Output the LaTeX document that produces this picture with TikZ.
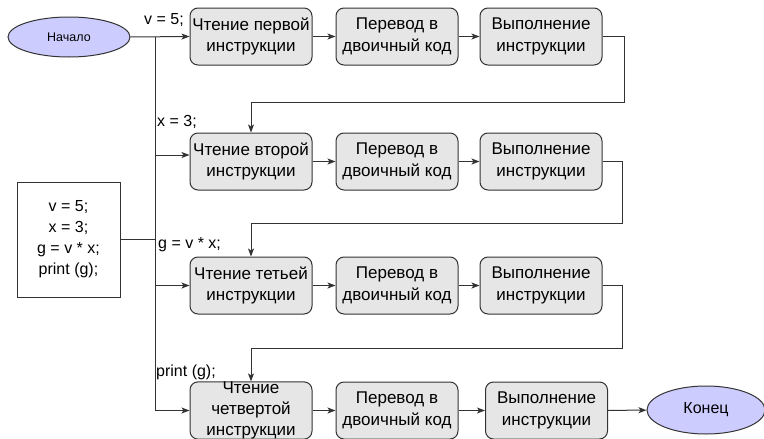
\documentclass[tikz,border=0pt]{standalone}
\usepackage{fontspec}
\setmainfont{Liberation Sans}
\usetikzlibrary{shapes.geometric,arrows.meta}
\definecolor{boxfill}{HTML}{E6E6E6}
\definecolor{ovalfill}{HTML}{CCCCFF}
\definecolor{ink}{HTML}{333333}
\tikzset{
  stepbox/.style={draw=ink, fill=boxfill, rounded corners=8pt, line width=1pt,
    minimum width=122pt, minimum height=57pt, align=center, inner sep=0pt,
    font=\fontsize{17}{21.5}\selectfont},
  oval/.style={draw=ink, fill=ovalfill, ellipse, line width=1pt, inner sep=0pt},
  codebox/.style={draw=ink, fill=white, line width=1pt, minimum width=103pt,
    minimum height=115pt, align=center, inner sep=0pt,
    font=\fontsize{16}{21}\selectfont},
  lbl/.style={inner sep=0pt, font=\fontsize{16}{21}\selectfont},
  link/.style={draw=ink, line width=1pt},
  arr/.style={link, -{Stealth[length=8pt,width=6pt,inset=2pt]}}
}
\begin{document}
\begin{tikzpicture}[x=1pt,y=-1pt]
\useasboundingbox (0,0) rectangle (764,439);

% start / end ovals
\node[oval, minimum width=122pt, minimum height=40pt,
      font=\fontsize{12.5}{15}\selectfont] (start) at (69,37) {Начало};
\node[oval, minimum width=118pt, minimum height=48pt,
      font=\fontsize{16}{20}\selectfont] (finish) at (706,410) {Конец};

% program listing
\node[codebox] (code) at (68.5,239.5) {v = 5;\\x = 3;\\g = v * x;\\print (g);};

% row 1
\node[stepbox] (r1a) at (251,36.5) {Чтение первой\\инструкции};
\node[stepbox] (r1b) at (397,36.5) {Перевод в\\двоичный код};
\node[stepbox] (r1c) at (541,36.5) {Выполнение\\инструкции};
% row 2
\node[stepbox] (r2a) at (251,161.5) {Чтение второй\\инструкции};
\node[stepbox] (r2b) at (397,161.5) {Перевод в\\двоичный код};
\node[stepbox] (r2c) at (541,161.5) {Выполнение\\инструкции};
% row 3
\node[stepbox] (r3a) at (251,285.5) {Чтение тетьей\\инструкции};
\node[stepbox] (r3b) at (397,285.5) {Перевод в\\двоичный код};
\node[stepbox] (r3c) at (541,285.5) {Выполнение\\инструкции};
% row 4
\node[stepbox, font=\fontsize{17}{21}\selectfont] (r4a) at (251,410.5)
  {Чтение\\четвертой\\инструкции};
\node[stepbox] (r4b) at (397,410.5) {Перевод в\\двоичный код};
\node[stepbox] (r4c) at (546.5,410.5) {Выполнение\\инструкции};

% instruction labels along the trunk
\node[lbl] (l1) at (164,20) {v = 5;};
\node[lbl, anchor=west] (l2) at (157,122) {x = 3;};
\node[lbl, anchor=west] (l3) at (158,245) {g = v * x;};
\node[lbl, anchor=west] (l4) at (156,372) {print (g);};

% trunk that feeds each instruction reader
\coordinate (t1) at (155,37);
\coordinate (t4) at (155,410.5);
\draw[arr] (start.east) -- (r1a.west);
\draw[link] (t1) -- (t4);
\draw[arr] (t4) -- (r4a.west);
\draw[arr] (155,155) coordinate (j2) -- ([yshift=6.5pt]r2a.west);
\draw[arr] (t1 |- r3a.west) -- (r3a.west);
\draw[link] (code.east) -- (code.east -| t1);

% pipeline inside each row
\draw[arr] (r1a) -- (r1b);
\draw[arr] (r1b) -- (r1c);
\draw[arr] (r2a) -- (r2b);
\draw[arr] (r2b) -- (r2c);
\draw[arr] (r3a) -- (r3b);
\draw[arr] (r3b) -- (r3c);
\draw[arr] (r4a) -- (r4b);
\draw[arr] (r4b) -- (r4c);
\draw[arr] (r4c) -- (finish);

% returns to the next reader
\coordinate (k1) at (624,102);
\coordinate (k2) at (622,223);
\coordinate (k3) at (622,348);
\draw[arr] (r1c.east) -| (k1) -| (r2a.north);
\draw[arr] (r2c.east) -| (k2) -| (r3a.north);
\draw[arr] (r3c.east) -| (k3) -| (r4a.north);
\end{tikzpicture}
\end{document}
